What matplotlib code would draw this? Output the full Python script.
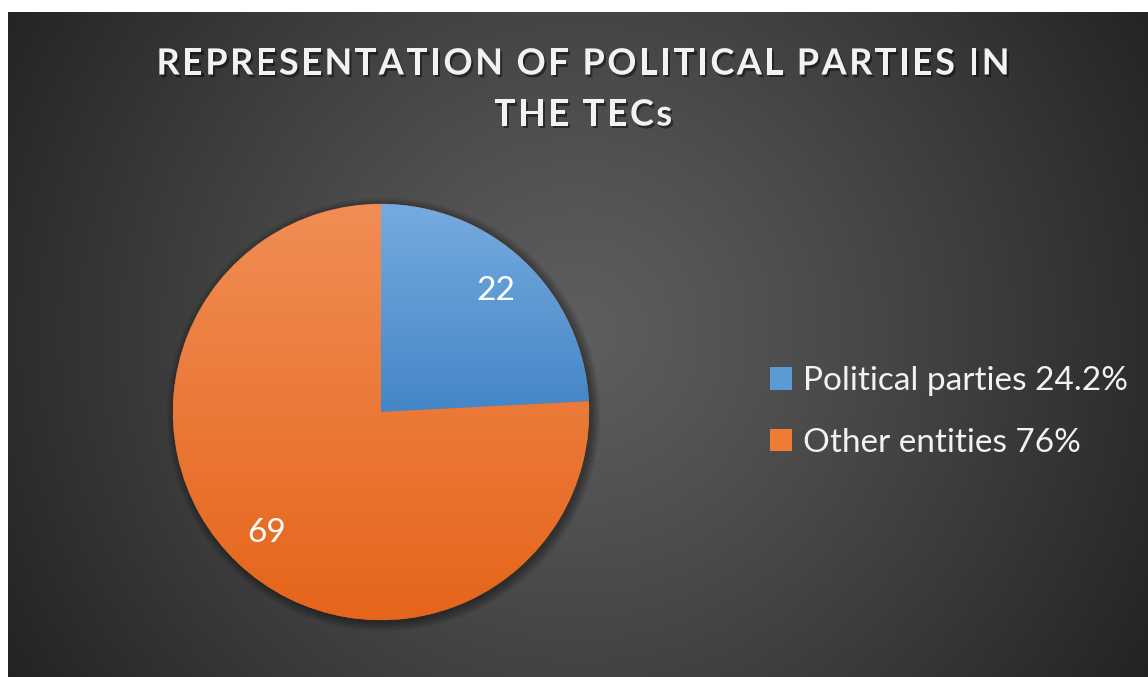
import numpy as np
import matplotlib
matplotlib.use("Agg")
import matplotlib.pyplot as plt
from matplotlib import patheffects as pe
from matplotlib.colors import LinearSegmentedColormap, to_rgb
from matplotlib.patches import Circle

# ---- data ----
categories = ["Political parties", "Other entities"]
values = [22, 69]
legend_pct = ["24.2%", "76%"]
title_lines = ["REPRESENTATION OF POLITICAL PARTIES IN", "THE TECs"]

# ---- styles ----
colors_top = ["#76abdf", "#f18d55"]
colors_bottom = ["#4486c7", "#e5651a"]
colors_mid = ["#5b9bd5", "#ed7d31"]
FONT = ["Lato", "DejaVu Sans"]
TXT = "#f2f2f2"

W, H = 1148, 677
fig = plt.figure(figsize=(W / 100, H / 100), dpi=100)
fig.patch.set_facecolor("white")

# ---- background (radial gradient) ----
bx0, by_top = 8, 12
bw, bh = W - bx0, H - by_top
bg = fig.add_axes([bx0 / W, 0, bw / W, bh / H])
bg.set_axis_off()
ny, nx = 240, 400
yy, xx = np.mgrid[0:ny, 0:nx]
px = xx / (nx - 1) * bw
py = yy / (ny - 1) * bh
cx, cy = 570, 320
dist = np.hypot(px - cx, py - cy)
r = dist / dist.max()
c_in = np.array(to_rgb("#5e5e5e"))
c_out = np.array(to_rgb("#232323"))
t = np.clip(r, 0, 1) ** 1.15
img = c_in[None, None, :] * (1 - t[..., None]) + c_out[None, None, :] * t[..., None]
bg.imshow(img, extent=(0, 1, 0, 1), aspect="auto", origin="upper", interpolation="bilinear")
bg.set_xlim(0, 1)
bg.set_ylim(0, 1)

# ---- pie ----
R = 208
pcx, pcy = 381, 412
ax = fig.add_axes([(pcx - R) / W, (H - pcy - R) / H, 2 * R / W, 2 * R / H])
ax.set_axis_off()
total = sum(values)

# soft shadow
for k in range(8):
    ax.add_patch(Circle((0.012, -0.012), 1.0 + 0.006 * k, facecolor="black",
                        edgecolor="none", alpha=0.05, zorder=0, clip_on=False))

wedges, texts, autotexts = ax.pie(
    values, startangle=90, counterclock=False, radius=1, colors=colors_mid,
    autopct=lambda p: f"{round(p * total / 100):d}", pctdistance=0.8,
    wedgeprops=dict(edgecolor="#a8643f", linewidth=0.3),
    textprops=dict(color="white", fontsize=24, family=FONT))

for w, ct, cb in zip(wedges, colors_top, colors_bottom):
    ext = w.get_path().get_extents()
    cmap = LinearSegmentedColormap.from_list("g", [cb, ct])
    grad = np.linspace(0, 1, 256).reshape(-1, 1)
    im = ax.imshow(grad, extent=(ext.x0, ext.x1, ext.y0, ext.y1), origin="lower",
                   cmap=cmap, aspect="auto", zorder=w.get_zorder() + 0.1)
    im.set_clip_path(w)
for tx in autotexts:
    tx.set_zorder(10)
ax.set_xlim(-1, 1)
ax.set_ylim(-1, 1)
ax.set_aspect("equal")

# ---- legend ----
leg = fig.legend(
    handles=wedges,
    labels=[f"{c} {p}" for c, p in zip(categories, legend_pct)],
    loc="center left", bbox_to_anchor=(770 / W, (H - 412) / H),
    frameon=False, prop=dict(family=FONT, size=24),
    handlelength=0.65, handleheight=0.65, handletextpad=0.33,
    labelspacing=0.95, borderpad=0, borderaxespad=0)
for tx in leg.get_texts():
    tx.set_color(TXT)
for h in leg.legend_handles:
    h.set_edgecolor("none")

# ---- title with letter spacing ----
renderer = fig.canvas.get_renderer()
tprops = dict(family=FONT, size=26, weight="bold", color=TXT)

def char_width(c):
    t1 = fig.text(0, 0, "|" + c + "|", **tprops)
    t2 = fig.text(0, 0, "||", **tprops)
    w = t1.get_window_extent(renderer).width - t2.get_window_extent(renderer).width
    t1.remove(); t2.remove()
    return w

x_left, x_right = 157, 1010
widths0 = [char_width(c) for c in title_lines[0]]
spacing = ((x_right - x_left) - sum(widths0)) / (len(title_lines[0]) - 1)
center_x = 583
line_y = [61, 112]
shadow = [pe.withSimplePatchShadow(offset=(1.5, -2), shadow_rgbFace="black", alpha=0.45)]
for line, ly in zip(title_lines, line_y):
    ws = [char_width(c) for c in line]
    total_w = sum(ws) + spacing * (len(line) - 1)
    x = center_x - total_w / 2
    for c, w in zip(line, ws):
        if c != " ":
            fig.text((x + w / 2) / W, (H - ly) / H, c, ha="center", va="center_baseline",
                     path_effects=shadow, **tprops)
        x += w + spacing

fig.savefig("out.png", dpi=100, facecolor=fig.get_facecolor())
